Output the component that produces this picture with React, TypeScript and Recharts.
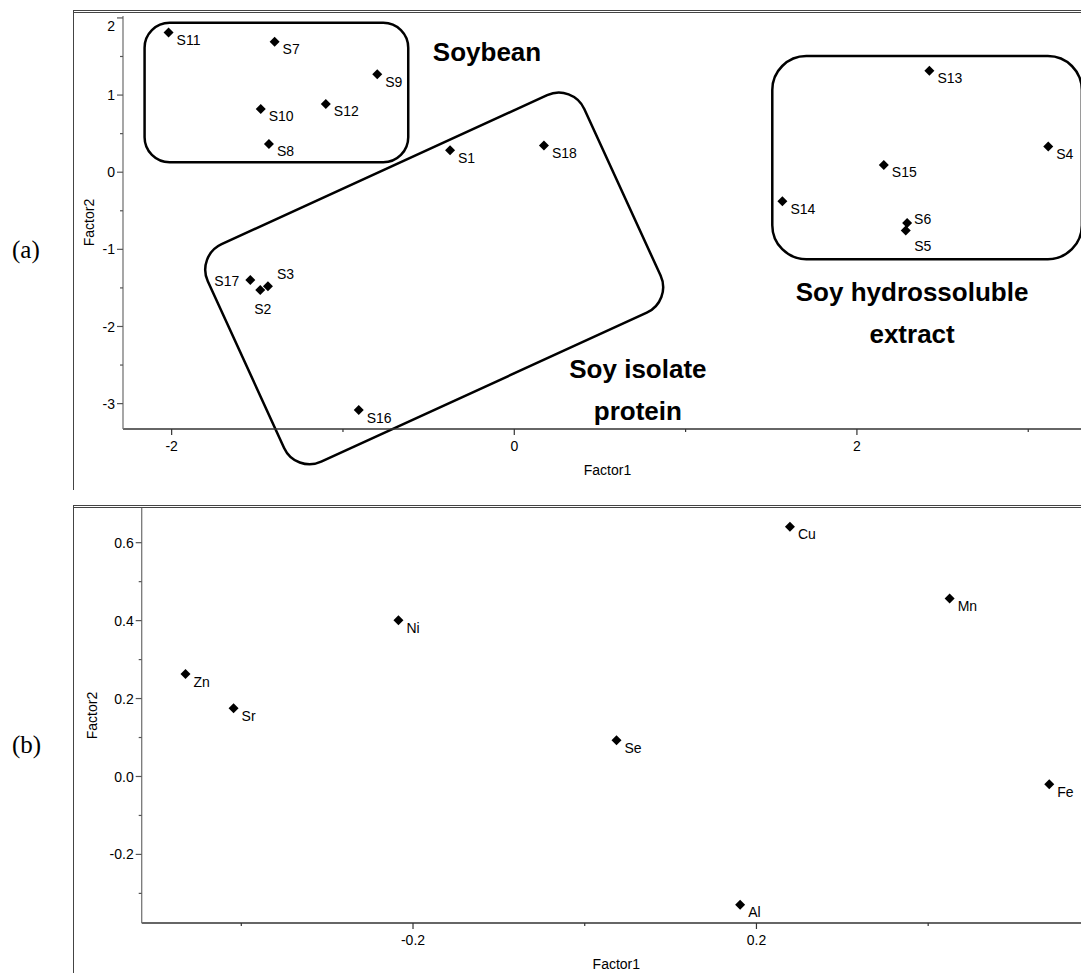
import React from 'react';
import { ScatterChart, Scatter, XAxis, YAxis, ReferenceArea, ReferenceDot } from 'recharts';

// (a) sample scores
const sampleNames = ['S1', 'S2', 'S3', 'S4', 'S5', 'S6', 'S7', 'S8', 'S9', 'S10', 'S11', 'S12', 'S13', 'S14', 'S15', 'S16', 'S17', 'S18'];
const sampleFactor1 = [-0.375, -1.483, -1.438, 3.117, 2.285, 2.293, -1.399, -1.432, -0.8, -1.48, -2.018, -1.1, 2.423, 1.565, 2.157, -0.908, -1.541, 0.173];
const sampleFactor2 = [0.285, -1.528, -1.477, 0.332, -0.756, -0.66, 1.69, 0.367, 1.27, 0.82, 1.81, 0.885, 1.316, -0.376, 0.095, -3.083, -1.399, 0.345];

// (b) element loadings
const elementNames = ['Zn', 'Sr', 'Ni', 'Cu', 'Se', 'Al', 'Mn', 'Fe'];
const elementFactor1 = [-0.465, -0.409, -0.217, 0.239, 0.037, 0.181, 0.425, 0.541];
const elementFactor2 = [0.263, 0.175, 0.401, 0.641, 0.093, -0.329, 0.457, -0.02];

// axis ticks
const ticksA_x = [-2, -1, 0, 1, 2, 3];
const majorsA_x = [-2, 0, 2];
const ticksA_y = [-3, -2.5, -2, -1.5, -1, -0.5, 0, 0.5, 1, 1.5, 2];
const majorsA_y = [-3, -2, -1, 0, 1, 2];
const ticksB_x = [-0.4, -0.2, 0, 0.2, 0.4];
const majorsB_x = [-0.2, 0.2];
const ticksB_y = [-0.3, -0.2, -0.1, 0, 0.1, 0.2, 0.3, 0.4, 0.5, 0.6];
const majorsB_y = [-0.2, 0, 0.2, 0.4, 0.6];

// group outlines in factor space
const soybeanBox = { x1: -2.158, x2: -0.619, y1: 0.13, y2: 1.938 };
const hydroBox = { x1: 1.506, x2: 3.313, y1: -1.127, y2: 1.506 };
const isolateBox = { x1: -1.676, x2: 0.741, y1: -2.928, y2: 0.174 };

const headings = [
  { lines: ['Soybean'], x: -0.159, y: 1.442 },
  { lines: ['Soy isolate', 'protein'], x: 0.7215, y: -2.668 },
  { lines: ['Soy hydrossoluble', 'extract'], x: 2.322, y: -1.676 },
];

const samples = sampleNames.map((name, i) => ({ name, x: sampleFactor1[i], y: sampleFactor2[i] }));
const elements = elementNames.map((name, i) => ({ name, x: elementFactor1[i], y: elementFactor2[i] }));

const FONT = '"Liberation Sans", Arial, sans-serif';

// label placement tweaks where points crowd together
const labelOffsets: Record<string, { dx: number; dy: number; anchor?: string }> = {
  S17: { dx: -11, dy: 6, anchor: 'end' },
  S3: { dx: 9, dy: -7 },
  S2: { dx: -6, dy: 24 },
  S6: { dx: 7, dy: 1 },
  S5: { dx: 8.5, dy: 20 },
};

const Diamond = (props: any) => {
  const { cx, cy, payload } = props;
  const r = 5;
  const off = labelOffsets[payload.name] || { dx: 8, dy: 12.5 };
  return (
    <g>
      <path d={`M${cx},${cy - r}L${cx + r},${cy}L${cx},${cy + r}L${cx - r},${cy}Z`} fill="#000" />
      <text x={cx + off.dx} y={cy + off.dy} textAnchor={off.anchor || 'start'} fontSize={14} fill="#000" fontFamily={FONT}>
        {payload.name}
      </text>
    </g>
  );
};

const XTick = (props: any) => {
  const { x, y, payload, majors, fmt } = props;
  const major = majors.includes(payload.value);
  return (
    <g>
      <line x1={x} x2={x} y1={y} y2={y + (major ? 6 : 3)} stroke="#333" strokeWidth={1.2} />
      {major && (
        <text x={x} y={y + 21.5} textAnchor="middle" fontSize={14} fill="#000" fontFamily={FONT}>
          {fmt(payload.value)}
        </text>
      )}
    </g>
  );
};

const YTick = (props: any) => {
  const { x, y, payload, majors, fmt, minY = -Infinity } = props;
  const major = majors.includes(payload.value);
  return (
    <g>
      <line x1={x - (major ? 6 : 3)} x2={x} y1={y} y2={y} stroke="#555" strokeWidth={1.2} />
      {major && (
        <text x={x - 8} y={Math.max(y, minY)} dy="0.36em" textAnchor="end" fontSize={14} fill="#000" fontFamily={FONT}>
          {fmt(payload.value)}
        </text>
      )}
    </g>
  );
};

const RoundBox = (props: any) => {
  const { x, y, width, height, rx, angle } = props;
  const w = Math.abs(width);
  const h = Math.abs(height);
  const left = width < 0 ? x + width : x;
  const top = height < 0 ? y + height : y;
  const cx = left + w / 2;
  const cy = top + h / 2;
  return (
    <rect
      x={left}
      y={top}
      width={w}
      height={h}
      rx={rx}
      fill="none"
      stroke="#000"
      strokeWidth={2.5}
      transform={angle ? `rotate(${angle} ${cx} ${cy})` : undefined}
    />
  );
};

const Heading = (props: any) => {
  const { cx, cy, lines } = props;
  return (
    <text x={cx} y={cy} textAnchor="middle" fontSize={26} fontWeight="bold" fill="#000" fontFamily={FONT}>
      {lines.map((l: string, i: number) => (
        <tspan key={i} x={cx} dy={i === 0 ? 0 : 41.5}>
          {l}
        </tspan>
      ))}
    </text>
  );
};

const intFmt = (v: number) => String(v);
const decFmt = (v: number) => v.toFixed(1);

export default function App() {
  return (
    <div style={{ position: 'absolute', left: 0, top: 0, width: 1081, height: 973, overflow: 'hidden', background: '#fff', fontFamily: FONT }}>
      {/* panel frames */}
      <div style={{ position: 'absolute', left: 73, top: 10, width: 1100, height: 477, borderTop: '3px double #444', borderLeft: '1px solid #444' }} />
      <div style={{ position: 'absolute', left: 73, top: 505, width: 1100, height: 480, borderTop: '3px double #444', borderLeft: '1px solid #444' }} />

      <div style={{ position: 'absolute', left: 12, top: 236, fontFamily: '"Liberation Serif", serif', fontSize: 25, lineHeight: '28px' }}>(a)</div>
      <div style={{ position: 'absolute', left: 12, top: 731, fontFamily: '"Liberation Serif", serif', fontSize: 25, lineHeight: '28px' }}>(b)</div>

      <div style={{ position: 'absolute', left: 73, top: 11 }}>
        <ScatterChart width={1008} height={474} margin={{ top: 5, right: 0, bottom: 0, left: 0 }}>
          <XAxis
            type="number"
            dataKey="x"
            domain={[-2.284, 3.308]}
            allowDataOverflow
            ticks={ticksA_x}
            interval={0}
            tickSize={0}
            tickMargin={0}
            tickLine={false}
            tick={<XTick majors={majorsA_x} fmt={intFmt} />}
            height={56}
            axisLine={{ stroke: '#333', strokeWidth: 1.3 }}
            label={{ value: 'Factor1', position: 'insideBottom', offset: 10.3, dx: 5.5, fill: '#000', fontSize: 14 }}
          />
          <YAxis
            type="number"
            dataKey="y"
            domain={[-3.329, 2.025]}
            allowDataOverflow
            ticks={ticksA_y}
            interval={0}
            tickSize={0}
            tickMargin={0}
            tickLine={false}
            tick={<YTick majors={majorsA_y} fmt={intFmt} minY={15} />}
            width={50}
            axisLine={{ stroke: '#777', strokeWidth: 1.3 }}
            label={{ value: 'Factor2', angle: -90, position: 'insideLeft', offset: 16, fill: '#000', fontSize: 14, style: { textAnchor: 'middle' } }}
          />
          <ReferenceArea {...soybeanBox} ifOverflow="visible" shape={(p: any) => <RoundBox {...p} rx={25} />} />
          <ReferenceArea {...hydroBox} ifOverflow="visible" shape={(p: any) => <RoundBox {...p} rx={34} />} />
          <ReferenceArea {...isolateBox} ifOverflow="visible" shape={(p: any) => <RoundBox {...p} rx={28} angle={-24.6} />} />
          {headings.map((h) => (
            <ReferenceDot key={h.lines[0]} x={h.x} y={h.y} ifOverflow="visible" shape={(p: any) => <Heading {...p} lines={h.lines} />} />
          ))}
          <Scatter data={samples} isAnimationActive={false} shape={Diamond} />
        </ScatterChart>
      </div>

      <div style={{ position: 'absolute', left: 73, top: 506 }}>
        <ScatterChart width={1008} height={467} margin={{ top: 2, right: 0, bottom: 0, left: 0 }}>
          <XAxis
            type="number"
            dataKey="x"
            domain={[-0.516, 0.578]}
            allowDataOverflow
            ticks={ticksB_x}
            interval={0}
            tickSize={0}
            tickMargin={0}
            tickLine={false}
            tick={<XTick majors={majorsB_x} fmt={decFmt} />}
            height={50}
            axisLine={{ stroke: '#333', strokeWidth: 1.3 }}
            label={{ value: 'Factor1', position: 'insideBottom', offset: 4, dx: 5, fill: '#000', fontSize: 14 }}
          />
          <YAxis
            type="number"
            dataKey="y"
            domain={[-0.376, 0.689]}
            allowDataOverflow
            ticks={ticksB_y}
            interval={0}
            tickSize={0}
            tickMargin={0}
            tickLine={false}
            tick={<YTick majors={majorsB_y} fmt={decFmt} />}
            width={68.7}
            axisLine={{ stroke: '#777', strokeWidth: 1.3 }}
            label={{ value: 'Factor2', angle: -90, position: 'insideLeft', offset: 19, fill: '#000', fontSize: 14, style: { textAnchor: 'middle' } }}
          />
          <Scatter data={elements} isAnimationActive={false} shape={Diamond} />
        </ScatterChart>
      </div>
    </div>
  );
}
